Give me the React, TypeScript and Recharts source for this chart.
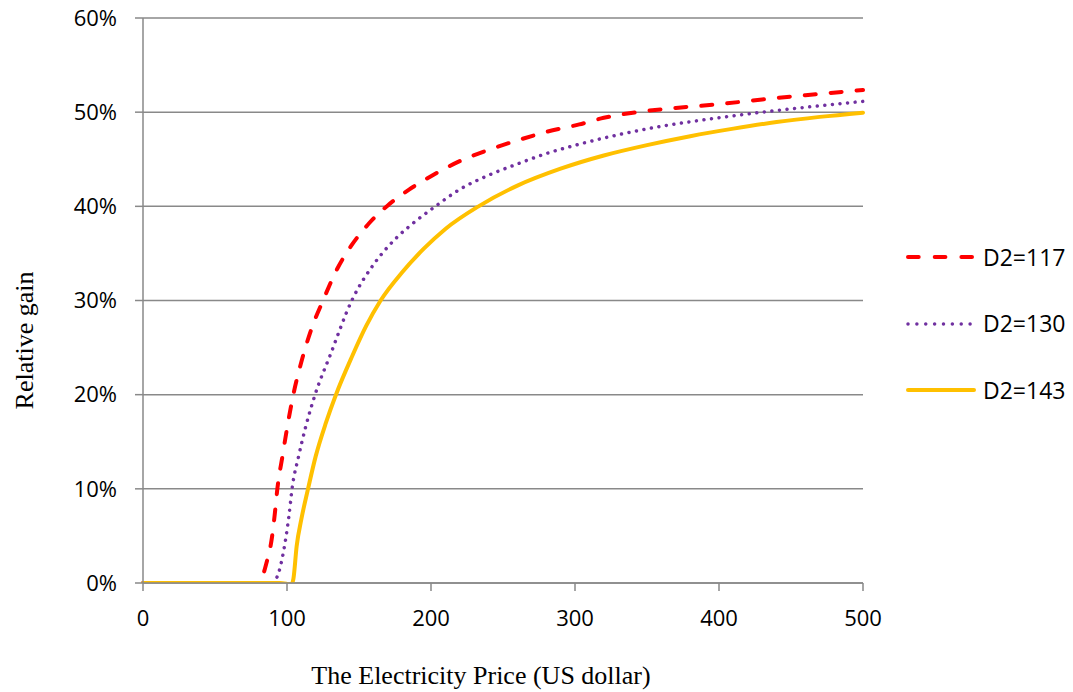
import { LineChart, Line, XAxis, YAxis, CartesianGrid, Legend, Label } from "recharts";

// Electricity price (US dollar) and relative gain (%)
const priceD117 = [0, 20, 40, 60, 72, 76, 79, 82, 85.5, 89.6, 91.5, 93.3, 97, 100, 104.4, 110, 117, 125, 135, 145, 157, 170, 185, 200, 220, 240, 260, 280, 303, 320, 343, 370, 400, 430, 460, 500];
const gainD117 = [0, 0, 0, 0, 0, -0.1, -0.2, 0.3, 2, 4.9, 7.3, 10, 13.6, 16.4, 20, 23.5, 27, 30, 33.4, 35.9, 38.2, 40.1, 41.8, 43.2, 44.8, 46, 47, 47.9, 48.7, 49.4, 50, 50.45, 50.85, 51.35, 51.8, 52.35];

const priceD130 = [0, 20, 40, 60, 80, 86, 89.4, 94, 96.5, 99.3, 101.5, 103.5, 108, 113, 119.5, 130, 145, 160, 175, 190, 203, 220, 240, 260, 280, 303, 330, 360, 390, 430, 465, 500];
const gainD130 = [0, 0, 0, 0, 0, 0, 0, 1, 2.5, 4.9, 7.3, 10, 13.4, 16.6, 20, 24.2, 30, 33.8, 36.5, 38.5, 40, 41.8, 43.3, 44.5, 45.6, 46.6, 47.6, 48.5, 49.2, 50, 50.6, 51.15];

const priceD143 = [0, 20, 40, 60, 80, 95, 100, 103, 104.5, 106.7, 110, 114.6, 120, 127, 134, 145, 155, 165, 180, 195, 210, 233, 260, 290, 320, 350, 380, 410, 440, 470, 500];
const gainD143 = [0, 0, 0, 0, 0, 0, -0.1, -0.2, 0.5, 3.9, 6.8, 10, 13.5, 17, 20, 24, 27.3, 30, 33, 35.5, 37.6, 40, 42.2, 44, 45.4, 46.5, 47.45, 48.25, 48.95, 49.5, 49.95];

const priceTicks = [0, 100, 200, 300, 400, 500];
const gainTicks = [0, 10, 20, 30, 40, 50, 60];

const toPoints = (prices: number[], gains: number[]) =>
  prices.map((price, i) => ({ price, gain: gains[i] }));

const GRID = "#898989";

// Line styles, also used for the legend samples
const SERIES = [
  { name: "D2=117", data: toPoints(priceD117, gainD117), color: "#FF0000", dash: "11 15", legendDash: "10.7 16" },
  { name: "D2=130", data: toPoints(priceD130, gainD130), color: "#7030A0", dash: "0.01 7.6", legendDash: "0.01 8.86" },
  { name: "D2=143", data: toPoints(priceD143, gainD143), color: "#FFC000", dash: undefined, legendDash: undefined },
];

const renderLegend = () => (
  <div style={{ fontFamily: "Open Sans", fontSize: 23, color: "#000" }}>
    {SERIES.map((s) => (
      <div key={s.name} style={{ display: "flex", alignItems: "center", height: 66.5 }}>
        <svg width={72} height={10}>
          <line
            x1={2}
            y1={5}
            x2={s.legendDash ? 66 : 68}
            y2={5}
            stroke={s.color}
            strokeWidth={s.name === "D2=130" ? 3.5 : 4}
            strokeDasharray={s.legendDash}
            strokeLinecap="round"
          />
        </svg>
        <span style={{ marginLeft: 5, lineHeight: 1 }}>{s.name}</span>
      </div>
    ))}
  </div>
);

const renderYTitle = (props: any) => {
  const { x, y, height } = props.viewBox;
  const tx = x - 50;
  const ty = y + height / 2 + 40;
  return (
    <text x={tx} y={ty} transform={`rotate(-90, ${tx}, ${ty})`} textAnchor="middle"
      fontFamily="Liberation Serif" fontSize={26} fill="#000">
      Relative gain
    </text>
  );
};

const renderXTitle = (props: any) => {
  const { x, y, width } = props.viewBox;
  return (
    <text x={x + width / 2 - 22} y={y + 101} textAnchor="middle"
      fontFamily="Liberation Serif" fontSize={26} fill="#000">
      The Electricity Price (US dollar)
    </text>
  );
};

const tickStyle = { fill: "#000", fontSize: 22, fontFamily: "Open Sans" };

export default function App() {
  return (
    <div style={{ position: "absolute", left: 0, top: 0, background: "#fff" }}>
      <LineChart width={1073} height={692} margin={{ top: 18, right: 210, left: 83, bottom: 49 }}>
        <CartesianGrid vertical={false} stroke={GRID} strokeWidth={1.5} />
        <XAxis
          type="number"
          dataKey="price"
          domain={[0, 500]}
          ticks={priceTicks}
          height={60}
          tickSize={8}
          tickMargin={19}
          tick={tickStyle}
          axisLine={{ stroke: GRID, strokeWidth: 1.5 }}
          tickLine={{ stroke: GRID, strokeWidth: 1.5 }}
        >
          <Label content={renderXTitle} />
        </XAxis>
        <YAxis
          type="number"
          domain={[0, 60]}
          ticks={gainTicks}
          allowDataOverflow
          width={60}
          tickSize={8}
          tickMargin={18}
          tick={tickStyle}
          tickFormatter={(v: number) => `${v}%`}
          axisLine={{ stroke: GRID, strokeWidth: 1.5 }}
          tickLine={{ stroke: GRID, strokeWidth: 1.5 }}
        >
          <Label content={renderYTitle} />
        </YAxis>
        <Legend
          layout="horizontal"
          align="center"
          verticalAlign="middle"
          content={renderLegend}
          wrapperStyle={{ left: 906, top: 224, width: 167 }}
        />
        {SERIES.map((s) => (
          <Line
            key={s.name}
            name={s.name}
            data={s.data}
            dataKey="gain"
            type="monotone"
            stroke={s.color}
            strokeWidth={s.name === "D2=130" ? 3.5 : 4}
            strokeDasharray={s.dash}
            strokeLinecap="round"
            dot={false}
            activeDot={false}
            isAnimationActive={false}
          />
        ))}
      </LineChart>
    </div>
  );
}
